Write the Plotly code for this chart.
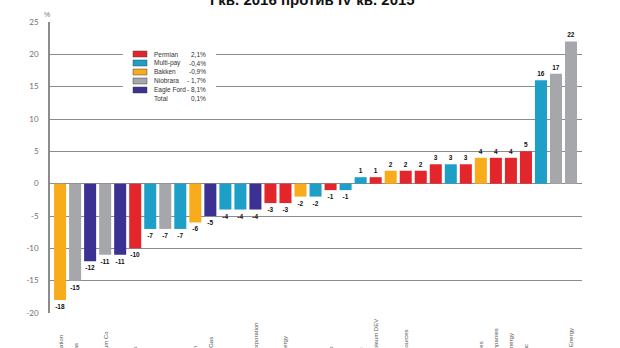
import plotly.graph_objects as go

# ---------------- data ----------------
companies = [
    "Newfield Exploration", "Carrizo Oil & Gas", "Devon Energy", "Whiting Petroleum Co", "Anadarko",
    "EOG Resources", "WPX Energy", "Noble Energy", "Statoil", "Oasis Petroleum",
    "Approach Oil & Gas", "Encana", "Hess Corp", "Marathon Oil Corporation", "Apache",
    "Chesapeake Energy", "Energen Corp", "QEP", "EP Energy Corp", "BHP Billiton",
    "Rice Energy Inc", "Occidental Petroleum DEV", "Oasis", "Continental Resources", "Cimarex",
    "Concho", "PDC Energy", "Laredo", "Halcon Resources", "SM Energy Companies",
    "Diamondback Energy", "RSP Permian Inc", "Sanchez", "Extraction Oil", "Bonanza Creek Energy",
]
values = [-18, -15, -12, -11, -11, -10, -7, -7, -7, -6, -5, -4, -4, -4, -3, -3, -2, -2, -1, -1,
          1, 1, 2, 2, 2, 3, 3, 3, 4, 4, 4, 5, 16, 17, 22]
regions = ["Bakken", "Niobrara", "Eagle Ford", "Niobrara", "Eagle Ford", "Permian", "Multi-pay",
           "Niobrara", "Multi-pay", "Bakken", "Eagle Ford", "Multi-pay", "Multi-pay", "Eagle Ford",
           "Permian", "Permian", "Bakken", "Multi-pay", "Permian", "Multi-pay",
           "Multi-pay", "Permian", "Bakken", "Permian", "Permian", "Permian", "Multi-pay", "Permian",
           "Bakken", "Permian", "Permian", "Permian", "Multi-pay", "Niobrara", "Niobrara"]

legend_names = ["Permian", "Multi-pay", "Bakken", "Niobrara", "Eagle Ford", "Total"]
legend_values = ["2,1%", "-0,4%", "-0,9%", "- 1,7%", "- 8,1%", "0,1%"]

region_colors = {
    "Permian": "#E2262B",
    "Multi-pay": "#1E9FC8",
    "Bakken": "#F8AC1C",
    "Niobrara": "#A5A7AA",
    "Eagle Ford": "#3A3192",
}

title_text = "I кв. 2016 против IV кв. 2015"
y_ticks = [-20, -15, -10, -5, 0, 5, 10, 15, 20, 25]

# ---------------- layout geometry ----------------
W, H = 620, 348
ML, MR, MT, MB = 50, 38, 22, 35
PW, PH = W - ML - MR, H - MT - MB
NARROW = "Liberation Sans Narrow, Arial Narrow, sans-serif"


def px_x(px):
    return (px - ML) / PW


def px_y(py):
    return (H - MB - py) / PH


fig = go.Figure()
fig.add_trace(go.Bar(
    x=companies,
    y=values,
    marker=dict(color=[region_colors[r] for r in regions], line=dict(width=0)),
    text=[str(v) for v in values],
    textposition="outside",
    textfont=dict(size=6.5, color="#111", family=NARROW, weight="bold"),
    cliponaxis=False,
    showlegend=False,
))

fig.update_layout(
    width=W, height=H, autosize=False,
    margin=dict(l=ML, r=MR, t=MT, b=MB, pad=0),
    paper_bgcolor="white", plot_bgcolor="white",
    bargap=0.2,
    font=dict(family="Liberation Sans, Arial, sans-serif"),
    xaxis=dict(
        type="category",
        range=[-0.67, 34.73],
        showticklabels=False, showgrid=False, zeroline=False, showline=False, ticks="",
    ),
    yaxis=dict(
        range=[-20, 25], tickvals=y_ticks, ticktext=[str(t) for t in y_ticks],
        showgrid=True, gridcolor="#8c8c8c", gridwidth=1,
        zeroline=True, zerolinecolor="#8c8c8c", zerolinewidth=1,
        showline=True, linecolor="#8c8c8c", linewidth=1.5,
        ticks="", ticklabelstandoff=8,
        tickfont=dict(size=8, color="#707070", family="Lato, Liberation Sans, sans-serif"),
    ),
)

annotations = []
shapes = []

# title (partially cut by the top edge, as in the reference)
annotations.append(dict(
    text=title_text, xref="paper", yref="paper", x=px_x(312), y=px_y(-1),
    xanchor="center", yanchor="middle", showarrow=False,
    font=dict(size=15, color="#111", family=NARROW, weight="bold"),
))
# % unit label
annotations.append(dict(
    text="%", xref="paper", yref="paper", x=px_x(47), y=px_y(14),
    xanchor="center", yanchor="middle", showarrow=False,
    font=dict(size=7, color="#707070"),
))

# category labels (rotated, running off the bottom edge)
for name in companies:
    annotations.append(dict(
        text=name, x=name, xref="x", yref="paper", y=px_y(392),
        xanchor="center", yanchor="bottom", textangle=-90, showarrow=False,
        font=dict(size=6, color="#555"),
    ))

# legend box
shapes.append(dict(type="rect", xref="paper", yref="paper",
                   x0=px_x(123), x1=px_x(216), y0=px_y(104), y1=px_y(45),
                   fillcolor="white", line=dict(width=0), layer="above"))
row0, step = 54, 9
for i, name in enumerate(legend_names):
    cy = row0 + i * step
    if name in region_colors:
        shapes.append(dict(type="rect", xref="paper", yref="paper",
                           x0=px_x(133), x1=px_x(147), y0=px_y(cy + 3), y1=px_y(cy - 3),
                           fillcolor=region_colors[name], line=dict(width=0.5, color="#444"),
                           layer="above"))
    annotations.append(dict(text=name, xref="paper", yref="paper", x=px_x(152), y=px_y(cy),
                            xanchor="left", yanchor="middle", showarrow=False,
                            font=dict(size=6.5, color="#333", family="Liberation Sans, sans-serif")))
    annotations.append(dict(text=legend_values[i], xref="paper", yref="paper", x=px_x(208), y=px_y(cy),
                            xanchor="right", yanchor="middle", showarrow=False,
                            font=dict(size=6.5, color="#333", family="Liberation Sans, sans-serif")))

fig.update_layout(annotations=annotations, shapes=shapes)
fig.write_html("out.html")
